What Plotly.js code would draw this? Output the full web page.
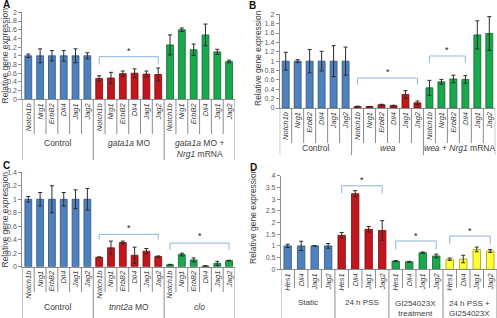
<!DOCTYPE html>
<html><head><meta charset="utf-8">
<script src="https://cdn.plot.ly/plotly-3.0.1.min.js"></script>
<style>html,body{margin:0;padding:0;background:#fff}#plot{width:497px;height:318px}</style>
</head><body><div id="plot"></div>
<script>
// ---------- data ----------
const genesABC = ['Notch1b','Nrg1','ErbB2','Dll4','Jag1','Jag2'];
const genesD = ['Hes1','Dll4','Jag1','Jag2'];

const groupsA = ['Control','<i>gata1a</i> MO','<i>gata1a</i> MO +<br><i>Nrg1</i> mRNA'];
const aControl = [1,1,1,1,1,1];
const aControlErr = [0.04,0.16,0.12,0.12,0.16,0.07];
const aGata = [0.48,0.49,0.59,0.60,0.58,0.57];
const aGataErr = [0.06,0.13,0.06,0.10,0.07,0.15];
const aGataNrg = [1.25,1.60,1.14,1.48,1.09,0.87];
const aGataNrgErr = [0.23,0.04,0.13,0.25,0.06,0.03];

const groupsB = ['Control','<i>wea</i>','<i>wea</i> + <i>Nrg1</i> mRNA'];
const bControl = [1,1,1,1,1,1];
const bControlErr = [0.19,0.03,0.25,0.21,0.33,0.30];
const bWea = [0.03,0.03,0.07,0.05,0.29,0.11];
const bWeaErr = [0.01,0.005,0.01,0.01,0.08,0.04];
const bWeaNrg = [0.43,0.56,0.62,0.61,1.56,1.59];
const bWeaNrgErr = [0.16,0.05,0.08,0.08,0.30,0.36];

const groupsC = ['Control','<i>tnnt2a</i> MO','<i>clo</i>'];
const cControl = [1,1,1,1,1,1];
const cControlErr = [0.04,0.10,0.20,0.10,0.14,0.16];
const cTnnt = [0.14,0.28,0.36,0.17,0.23,0.15];
const cTnntErr = [0.005,0.10,0.02,0.12,0.04,0.01];
const cClo = [0.03,0.18,0.10,0.01,0.05,0.09];
const cCloErr = [0.005,0.02,0.03,0.003,0.03,0.005];

const groupsD = ['Static','24 h PSS','GI254023X<br>treatment','24 h PSS +<br>GI254023X'];
const dStatic = [1.0,1.0,1.0,1.0];
const dStaticErr = [0.07,0.20,0.01,0.10];
const dPSS = [1.45,3.23,1.71,1.66];
const dPSSErr = [0.12,0.13,0.12,0.42];
const dGI = [0.35,0.32,0.71,0.57];
const dGIErr = [0.02,0.02,0.03,0.08];
const dPSSGI = [0.43,0.44,0.85,0.78];
const dPSSGIErr = [0.05,0.16,0.10,0.06];

// significance brackets: [first index, last index, top level, end level, star level]
const bracketsA = [[6,11,0.98,0.80,1.11]];
const bracketsB = [[6,11,0.64,0.50,0.76],[12,15,1.11,0.97,1.23]];
const bracketsC = [[6,11,0.48,0.40,0.57],[12,17,0.35,0.25,0.45]];
const bracketsD = [[4,7,3.57,3.25,3.81],[8,11,1.21,0.85,1.44],[12,15,1.42,1.07,1.65]];

// ---------- styling ----------
const W = 497, H = 318;
const px = v => v / W;
const py = v => 1 - v / H;
const fills = ['#4f81bd','#c0161c','#19a84c','#ffff3a'];
const lines = ['#2f5382','#7d0a0e','#0d6a2e','#a59d00'];
const axisCol = '#8c8c8c';
const txtCol = '#404040';

const panels = [
  {ax:'', genes:genesABC, groups:groupsA, data:[[aControl,aControlErr],[aGata,aGataErr],[aGataNrg,aGataNrgErr]],
   br:bracketsA, xd:[22.4,235], y0:99.3, y1:12.3, yr:[0,2], dt:0.2, innerEnd:134, groupEnd:160, labY:143, lfs:8.5, gap:0.42,
   letter:'A', lx:1, ly:5, tx:4.5, ty:56},
  {ax:'2', genes:genesABC, groups:groupsB, data:[[bControl,bControlErr],[bWea,bWeaErr],[bWeaNrg,bWeaNrgErr]],
   br:bracketsB, xd:[279.7,495.3], y0:108, y1:14.3, yr:[0,2], dt:0.2, innerEnd:143, groupEnd:155, labY:148, lfs:8.5, gap:0.42,
   letter:'B', lx:247, ly:6, tx:258, ty:58},
  {ax:'3', genes:genesABC, groups:groupsC, data:[[cControl,cControlErr],[cTnnt,cTnntErr],[cClo,cCloErr]],
   br:bracketsC, xd:[22.4,235], y0:266.7, y1:172.3, yr:[0,1.4], dt:0.2, innerEnd:292, groupEnd:318, labY:307, lfs:8.5, gap:0.42,
   letter:'C', lx:1, ly:165, tx:4.5, ty:220},
  {ax:'4', genes:genesD, groups:groupsD, data:[[dStatic,dStaticErr],[dPSS,dPSSErr],[dGI,dGIErr],[dPSSGI,dPSSGIErr]],
   br:bracketsD, xd:[280.9,497], y0:269.3, y1:175.7, yr:[0,4], dt:0.5, innerEnd:288, groupEnd:318, labY:302.5, lfs:8, gap:0.45,
   letter:'D', lx:248, ly:167, tx:253, ty:216}
];

const traces = [];
const shapes = [];
const annotations = [];
const layout = {
  width: W, height: H, margin:{l:0,r:0,t:0,b:0}, paper_bgcolor:'#fff', plot_bgcolor:'rgba(0,0,0,0)',
  showlegend:false, font:{family:'Arial, Liberation Sans, sans-serif', color:txtCol}
};

panels.forEach(p => {
  const n = p.genes.length;
  const total = n * p.groups.length;
  const xname = 'x' + p.ax, yname = 'y' + p.ax;
  p.data.forEach((d, g) => {
    traces.push({
      type:'bar', xaxis:xname, yaxis:yname,
      x: d[0].map((_, i) => g * n + i), y: d[0],
      marker:{color:fills[g], line:{color:lines[g], width:0.8}},
      error_y:{type:'data', array:d[1], visible:true, color:'#2b2b2b', thickness:1, width:2},
      width: 1 - p.gap, hoverinfo:'skip'
    });
  });
  const tickvals = [], ticktext = [];
  for (let g = 0; g < p.groups.length; g++) for (let i = 0; i < n; i++) {
    tickvals.push(g * n + i); ticktext.push('<i>' + p.genes[i] + '</i>');
  }
  const yt = [];
  for (let v = p.yr[0]; v <= p.yr[1] + 1e-9; v += p.dt) yt.push(Math.round(v*10)/10);
  layout['xaxis' + p.ax] = {
    domain:[px(p.xd[0]), Math.min(1, px(p.xd[1]))], range:[-0.5, total - 0.5], anchor:yname,
    showgrid:false, zeroline:false, showline:true, linecolor:axisCol, linewidth:1,
    ticks:'', tickvals, ticktext, tickangle:-90, tickfont:{size:7.5, color:txtCol}, fixedrange:true
  };
  layout['yaxis' + p.ax] = {
    domain:[py(p.y0), py(p.y1)], range:p.yr, anchor:xname,
    showgrid:false, zeroline:false, showline:true, linecolor:axisCol, linewidth:1,
    ticks:'outside', ticklen:3, tickcolor:axisCol, tickvals:yt, ticktext:yt.map(String),
    tickfont:{size:7, color:'#595959'}, fixedrange:true
  };
  // category separators
  for (let k = 0; k <= total; k++) {
    const isGroup = (k % n === 0);
    shapes.push({type:'line', xref:xname, yref:'paper', x0:k - 0.5, x1:k - 0.5,
      y0:py(p.y0), y1:py(isGroup ? p.groupEnd : p.innerEnd), line:{color:axisCol, width:1}});
  }
  // group labels (first line sits at labY)
  p.groups.forEach((gl, g) => {
    const twoLine = gl.indexOf('<br>') >= 0;
    annotations.push({xref:xname, yref:'paper', x:g * n + (n - 1) / 2, y:py(p.labY + (twoLine ? 5.5 : 0)),
      text:gl, showarrow:false, yanchor:'middle', font:{size:p.lfs, color:txtCol}});
  });
  // brackets
  p.br.forEach(b => {
    const [i0, i1, top, end, star] = b;
    shapes.push({type:'path', xref:xname, yref:yname,
      path:`M ${i0},${end} L ${i0},${top} L ${i1},${top} L ${i1},${end}`,
      line:{color:'#8db3e2', width:1}});
    annotations.push({xref:xname, yref:yname, x:(i0 + i1) / 2, y:star, text:'*',
      showarrow:false, font:{size:9, color:'#222'}, yanchor:'middle'});
  });
  // panel letter
  annotations.push({xref:'paper', yref:'paper', x:px(p.lx), y:py(p.ly), text:'<b>' + p.letter + '</b>',
    showarrow:false, xanchor:'left', yanchor:'middle', font:{size:10, color:'#111'}});
  // y-axis title
  annotations.push({xref:'paper', yref:'paper', x:px(p.tx), y:py(p.ty), text:'Relative gene expression',
    textangle:-90, showarrow:false, xanchor:'center', yanchor:'middle', font:{size:8.5, color:txtCol}});
});

layout.shapes = shapes;
layout.annotations = annotations;
Plotly.newPlot('plot', traces, layout, {staticPlot:true, displayModeBar:false});
</script></body></html>
